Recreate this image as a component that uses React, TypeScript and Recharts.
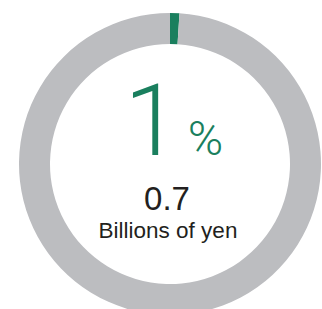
import React from 'react';
import { PieChart, Pie, Cell } from 'recharts';

const categories = ['Share', 'Rest'];
const values = [1, 99];
const colors = ['#1a7f5e', '#bcbdc0'];
const percentLabel = '1';
const amountLabel = '0.7';
const unitLabel = 'Billions of yen';

const data = categories.map((name, i) => ({ name, value: values[i] }));

export default function App() {
  return (
    <div style={{ position: 'absolute', left: 0, top: 0, width: 322, height: 309, overflow: 'hidden', background: '#fff' }}>
      <PieChart width={322} height={309} margin={{ top: 0, right: 0, bottom: 0, left: 0 }}>
        <Pie
          data={data}
          dataKey="value"
          nameKey="name"
          cx={170}
          cy={164}
          innerRadius={120}
          outerRadius={151}
          startAngle={90}
          endAngle={-270}
          stroke="none"
          isAnimationActive={false}
        >
          {data.map((d, i) => (
            <Cell key={d.name} fill={colors[i]} />
          ))}
        </Pie>
      </PieChart>
      <svg width={322} height={309} style={{ position: 'absolute', left: 0, top: 0 }}>
        <text x={152} y={155} textAnchor="middle" fontFamily="Roboto, sans-serif" fontWeight={300} fontSize={100} fill={colors[0]}>{percentLabel}</text>
        <text x={205.5} y={155} textAnchor="middle" fontFamily="Roboto, sans-serif" fontWeight={300} fontSize={48} fill={colors[0]}>%</text>
        <text x={167} y={210} textAnchor="middle" fontFamily="Liberation Sans, Arial, sans-serif" fontSize={33} fill="#231f20">{amountLabel}</text>
        <text x={168} y={238} textAnchor="middle" fontFamily="Liberation Sans, Arial, sans-serif" fontSize={22.5} fill="#231f20">{unitLabel}</text>
      </svg>
    </div>
  );
}
